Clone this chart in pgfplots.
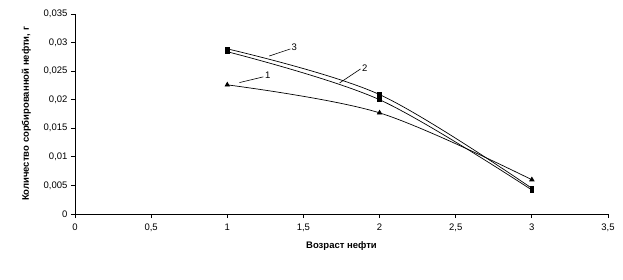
\documentclass[border=0pt]{standalone}
\usepackage{fontspec}
\setmainfont{Liberation Sans}
\usepackage{pgfplots}
\pgfplotsset{compat=1.18}
\begin{document}
\begin{tikzpicture}
\path[use as bounding box] (-75pt,-65pt) rectangle (548pt,214pt);
\begin{axis}[
  at={(0,0)}, anchor=south west,
  scale only axis, width=533pt, height=200pt,
  xmin=0, xmax=3.5, ymin=0, ymax=0.035,
  axis lines*=left,
  axis line style={-, line width=0.8pt},
  xtick={0,0.5,...,3.5},
  ytick={0,0.005,0.01,0.015,0.02,0.025,0.03,0.035},
  tick align=outside, major tick length=4pt,
  tick style={black, line width=0.8pt},
  /pgf/number format/assume math mode=true,
  /pgf/number format/use comma,
  xticklabel style={/pgf/number format/fixed, yshift=-2pt},
  yticklabel style={/pgf/number format/fixed, /pgf/number format/precision=3},
  scaled y ticks=false,
  ticklabel style={font=\fontsize{9.5}{11}\selectfont},
  xlabel={\textbf{Возраст нефти}},
  ylabel={\textbf{Количество сорбированной нефти, г}},
  label style={font=\fontsize{9.5}{11}\selectfont},
  xlabel style={yshift=-3pt},
  ylabel style={yshift=6pt},
  clip=false,
]
\addplot[black, line width=0.7pt, smooth, tension=0.55, mark=triangle*, mark size=2.5pt, mark options={solid}] coordinates {(1,0.0226) (2,0.0177) (3,0.0060)};
\addplot[black, line width=0.7pt, smooth, tension=0.55, mark=square*, mark size=1.9pt] coordinates {(1,0.0284) (2,0.0200) (3,0.0042)};
\addplot[black, line width=0.7pt, smooth, tension=0.55, mark=square*, mark size=1.9pt] coordinates {(1,0.0289) (2,0.0209) (3,0.0045)};
\draw[black, line width=0.6pt] (axis cs:1.08,0.0230) -- (axis cs:1.237,0.0240);
\node[font=\fontsize{9.5}{11}\selectfont, anchor=west, inner sep=1pt] at (axis cs:1.24,0.0242) {1};
\draw[black, line width=0.6pt] (axis cs:1.276,0.02765) -- (axis cs:1.414,0.02888);
\node[font=\fontsize{9.5}{11}\selectfont, anchor=west, inner sep=1pt] at (axis cs:1.415,0.0292) {3};
\draw[black, line width=0.6pt] (axis cs:1.737,0.02293) -- (axis cs:1.875,0.02538);
\node[font=\fontsize{9.5}{11}\selectfont, anchor=west, inner sep=1pt] at (axis cs:1.878,0.0256) {2};
\end{axis}
\end{tikzpicture}
\end{document}
